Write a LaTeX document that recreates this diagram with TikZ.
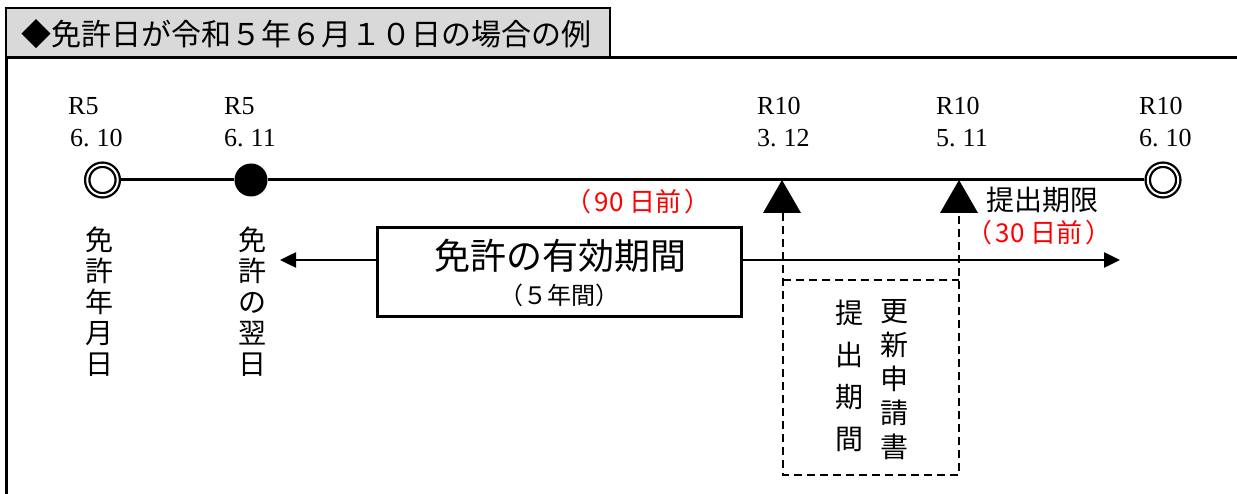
\documentclass[tikz,border=0pt]{standalone}
\usepackage{fontspec}
\setmainfont{Liberation Serif}
\newfontfamily\jp{Noto Sans CJK JP}
\usetikzlibrary{arrows.meta}
\definecolor{titlegray}{RGB}{217,217,217}
\begin{document}
\begin{tikzpicture}[x=1pt,y=-1pt,
  dbl/.style={circle,draw=black,double=white,line width=2.3pt,double distance=2pt,minimum size=30.5pt,inner sep=0pt,outer sep=3.3pt},
  dot/.style={circle,fill=black,minimum size=33pt,inner sep=0pt},
  datelbl/.style={anchor=base west,inner sep=0pt,font=\fontsize{26}{26}\selectfont},
  vtext/.style={align=center,inner sep=0pt,font=\jp\fontsize{28}{31}\selectfont},
  jptext/.style={inner sep=0pt,font=\jp\fontsize{#1}{#1}\selectfont},
  redtext/.style={inner sep=0pt,text=red,font=\jp\fontsize{26}{26}\selectfont},
  arr/.style={line width=2.5pt,-{Triangle[length=16pt,width=15pt]}},
  dsh/.style={line width=2pt,dash pattern=on 8pt off 5pt}]
\useasboundingbox (0,0) rectangle (1237,494);
% title and frame
\draw[line width=2.5pt,fill=titlegray] (6,8) rectangle (610,58);
\node[anchor=west,jptext=30] (title) at (21,34) {◆免許日が令和５年６月１０日の場合の例};
\draw[line width=3pt] (1240,58) -- (6,58) -- (6,497);
% markers
\node[dbl] (c1) at (102.5,180) {};
\node[dot] (c2) at (251,180) {};
\coordinate (t1) at (782,180);
\coordinate (t2) at (959,180);
\node[dbl] (c6) at (1163,180) {};
\draw[line width=3pt] (c1) -- (c2) -- (c6);
\fill (t1) -- ++(-19,33) -- ++(38,0) -- cycle;
\fill (t2) -- ++(-19,33) -- ++(38,0) -- cycle;
% date labels
\node[datelbl] (r1) at (68,115) {R5};
\node[datelbl] (d1) at (70,147) {6.\hspace{7pt}10};
\node[datelbl] (r2) at (224,115) {R5};
\node[datelbl] (d2) at (224,147) {6.\hspace{7pt}11};
\node[datelbl] (r3) at (757,115) {R10};
\node[datelbl] (d3) at (757,147) {3.\hspace{7pt}12};
\node[datelbl] (r4) at (936,115) {R10};
\node[datelbl] (d4) at (936,147) {5.\hspace{7pt}11};
\node[datelbl] (r5) at (1139,115) {R10};
\node[datelbl] (d5) at (1139,147) {6.\hspace{7pt}10};
% vertical texts
\node[vtext] (v1) at (99,302) {免\\許\\年\\月\\日};
\node[vtext] (v2) at (252,302) {免\\許\\の\\翌\\日};
% dashed period
\coordinate (t1b) at (783,213);
\coordinate (t2b) at (959,213);
\coordinate (bl) at (783,475);
\coordinate (br) at (959,475);
\coordinate (tl) at (783,280);
\coordinate (tr) at (959,280);
\draw[dsh] (t1b) -- (bl) -- (br) -- (t2b);
\draw[dsh] (tl) -- (tr);
\node[align=center,inner sep=0pt,font=\jp\fontsize{28}{42}\selectfont] (v3) at (849,376) {提\\出\\期\\間};
\node[align=center,inner sep=0pt,font=\jp\fontsize{28}{34}\selectfont] (v4) at (894,380) {更\\新\\申\\請\\書};
% validity box and arrows
\node[draw,line width=2.5pt,minimum width=364pt,minimum height=89pt,inner sep=0pt] (box) at (559.5,272) {};
\node[jptext=36] (main) at (560,256) {免許の有効期間};
\node[jptext=24] (sub) at (559,295) {（５年間）};
\coordinate (la) at (280,260);
\coordinate (ra) at (1120,260);
\draw[arr] (box.west |- la) -- (la);
\draw[arr] (box.east |- ra) -- (ra);
% notes
\node[redtext] (n90) at (638,202) {（\hspace{3pt}90 日前\hspace{3pt}）};
\node[anchor=west,jptext=28] (lim) at (986,200) {提出期限};
\node[redtext] (n30) at (1039,233) {（\hspace{3pt}30 日前\hspace{3pt}）};
\end{tikzpicture}
\end{document}
